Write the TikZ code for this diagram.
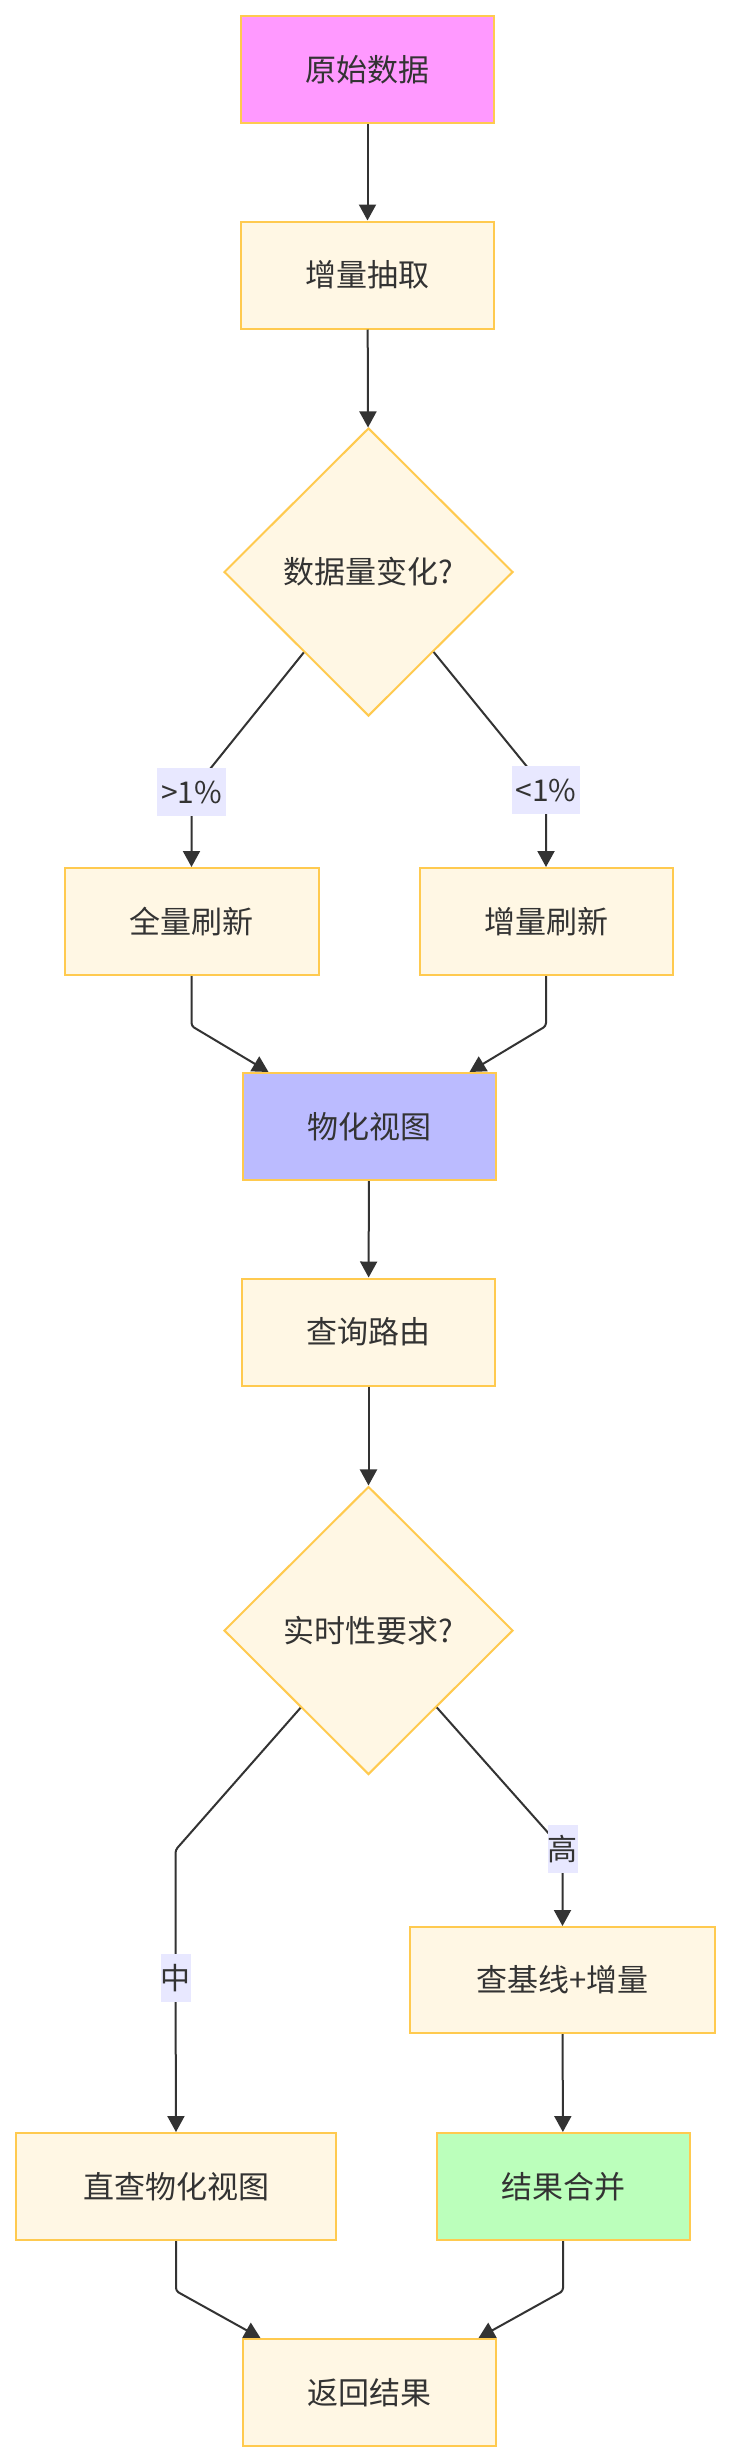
\documentclass[tikz,border=0pt]{standalone}
\usepackage{fontspec}
\setmainfont{Noto Sans CJK SC}
\usetikzlibrary{shapes.geometric,arrows.meta}
\definecolor{boxfill}{HTML}{FFF7E4}
\definecolor{boxline}{HTML}{FFCA4F}
\definecolor{txt}{HTML}{333333}
\definecolor{lbl}{HTML}{E8E8FF}
\definecolor{pinkfill}{HTML}{FF99FF}
\definecolor{bluefill}{HTML}{BBBBFF}
\definecolor{greenfill}{HTML}{BBFFBB}
\definecolor{edge}{HTML}{333333}
\begin{document}
\begin{tikzpicture}[x=1pt,y=-1pt,
  every node/.style={text=txt,font=\fontsize{31}{36}\selectfont},
  stepbox/.style={draw=boxline,line width=2pt,fill=boxfill,minimum width=253pt,minimum height=107pt,inner sep=0pt},
  decbox/.style={draw=boxline,line width=2pt,fill=boxfill,shape=diamond,minimum width=289pt,minimum height=288pt,inner sep=0pt},
  elabel/.style={fill=lbl,inner xsep=4pt,inner ysep=0pt,minimum height=48pt,font=\fontsize{30}{36}\selectfont},
  conn/.style={draw=edge,line width=2pt,-{Triangle[length=16pt,width=17pt]},rounded corners=3pt},
  plain/.style={draw=edge,line width=2pt}
]
\useasboundingbox (0,0) rectangle (728,2462);
\fill[white] (0,0) rectangle (728,2462);

\node[stepbox,fill=pinkfill] (a) at (367.5,69.5) {原始数据};
\node[stepbox] (b) at (367.5,275) {增量抽取};
\node[decbox] (c) at (368.5,572) {数据量变化?};
\node[stepbox,minimum width=254pt] (d) at (191.5,921.5) {全量刷新};
\node[stepbox] (e) at (546,921.5) {增量刷新};
\node[stepbox,fill=bluefill] (f) at (369,1126.5) {物化视图};
\node[stepbox] (g) at (368.5,1332) {查询路由};
\node[decbox] (h) at (368.5,1630.5) {实时性要求?};
\node[stepbox,minimum width=305pt,minimum height=106pt] (i) at (562.5,1980) {查基线+增量};
\node[stepbox,minimum width=320pt] (j) at (176,2186.5) {直查物化视图};
\node[stepbox,fill=greenfill] (k) at (563,2186.5) {结果合并};
\node[stepbox] (m) at (369,2392.5) {返回结果};

\coordinate (l1p) at (191.5,792);
\coordinate (l2p) at (546,790);
\coordinate (l3p) at (175.5,1978);
\coordinate (l4p) at (562.5,1849);
\coordinate (hb) at (175.5,1850);

\draw[conn] (a) -- (b);
\draw[conn] (b) -- (c);
\draw[conn] (c) -- (l1p) -- (d.north);
\draw[conn] (c) -- (l2p) -- (e.north);
\draw[conn] (d.south) -- ++(0,50) -- ([xshift=27pt]f.north west);
\draw[conn] (e.south) -- ++(0,50) -- ([xshift=-27pt]f.north east);
\draw[conn] (f) -- (g);
\draw[conn] (g) -- (h);
\draw[conn] (h) -- (hb) -- (l3p) -- (j.north);
\draw[conn] (h) -- (l4p) -- (i.north);
\draw[conn] (i) -- (k);
\draw[conn] (j.south) -- ++(0,50) -- ([xshift=19pt]m.north west);
\draw[conn] (k.south) -- ++(0,50) -- ([xshift=-18pt]m.north east);

\node[elabel] (l1) at (l1p) {>1\%};
\node[elabel] (l2) at (l2p) {<1\%};
\node[elabel,inner xsep=0pt] (l3) at (l3p) {中};
\node[elabel,inner xsep=0pt] (l4) at (l4p) {高};
\end{tikzpicture}
\end{document}
